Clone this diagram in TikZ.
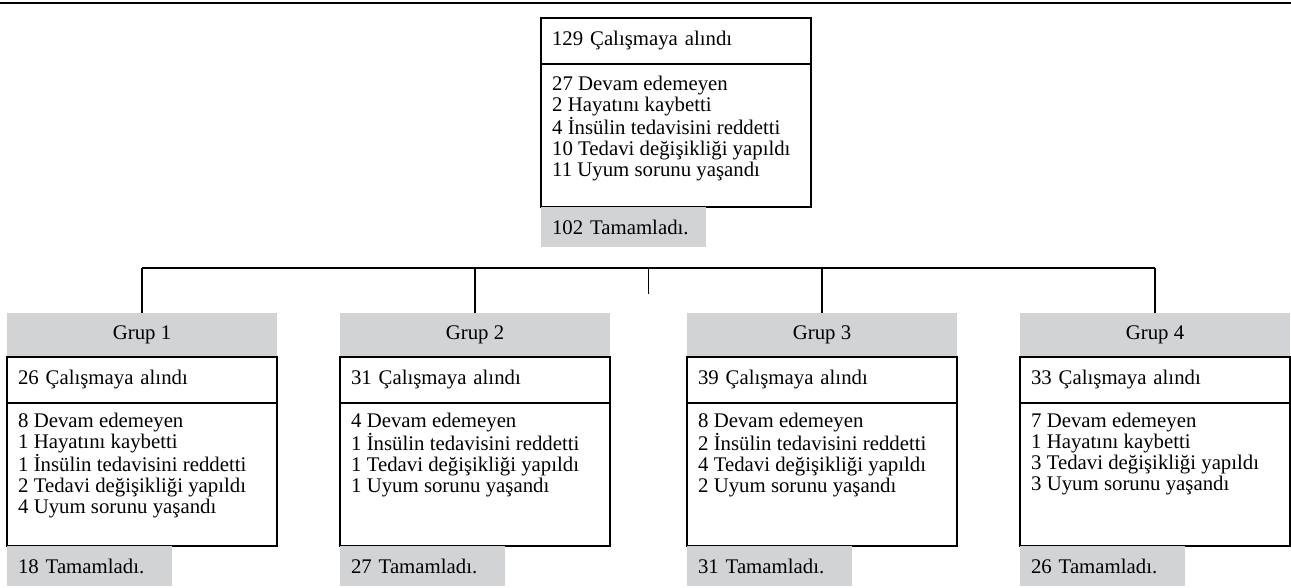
\documentclass[tikz,border=0pt]{standalone}
\usepackage{fontspec}
\setmainfont{Liberation Serif}
\usepackage{tikz}
\usetikzlibrary{calc,positioning}
\definecolor{boxgrey}{RGB}{210,211,213}
\newcommand\boxfont{\fontsize{20.8}{21}\selectfont}

\tikzset{
  hdrbox/.style={fill=boxgrey, minimum width=270pt, minimum height=44pt, inner sep=0pt, outer sep=0pt},
  titlebox/.style={draw, line width=1.8pt, text width=248pt, inner xsep=11pt, inner ysep=0pt,
    minimum height=46pt, align=left, outer sep=0pt},
  detbox/.style={draw, line width=1.8pt, minimum width=270pt, minimum height=143pt, inner sep=0pt, outer sep=0pt},
  donebox/.style={fill=boxgrey, text width=143pt, inner xsep=11pt, inner ysep=0pt,
    minimum height=40pt, align=left, outer sep=0pt},
  itemtext/.style={anchor=north west, align=left, inner sep=0pt},
  link/.style={line width=1.8pt}
}

\begin{document}
\begin{tikzpicture}[x=1pt, y=-1pt, every node/.style={font=\boxfont}]
  \useasboundingbox (0,0) rectangle (1291,587);
  % rule across the top
  \draw[line width=2.6pt] (0,3) -- (1291,3);
  % whole study
  \node[titlebox, anchor=north west] (ttl0) at (541,18) {129 Çalışmaya alındı};
  \node[detbox, anchor=north west] (det0) at (ttl0.south west) {};
  \node[donebox, anchor=north west] (done0) at (det0.south west) {102 Tamamladı.};
  \node[itemtext] (txt0) at ($(det0.north west)+(11,12)$) {27 Devam edemeyen\\2 Hayatını kaybetti\\4 İnsülin tedavisini reddetti\\10 Tedavi değişikliği yapıldı\\11 Uyum sorunu yaşandı};
  % the four groups
  \coordinate (bus) at (0,268);
  \foreach \g/\x/\n/\d/\body in {
      1/7/26/18/{8 Devam edemeyen\\1 Hayatını kaybetti\\1 İnsülin tedavisini reddetti\\2 Tedavi değişikliği yapıldı\\4 Uyum sorunu yaşandı},
      2/340/31/27/{4 Devam edemeyen\\1 İnsülin tedavisini reddetti\\1 Tedavi değişikliği yapıldı\\1 Uyum sorunu yaşandı},
      3/687/39/31/{8 Devam edemeyen\\2 İnsülin tedavisini reddetti\\4 Tedavi değişikliği yapıldı\\2 Uyum sorunu yaşandı},
      4/1020/33/26/{7 Devam edemeyen\\1 Hayatını kaybetti\\3 Tedavi değişikliği yapıldı\\3 Uyum sorunu yaşandı}}{
    \node[hdrbox, anchor=north west] (hdr\g) at (\x,313) {Grup \g};
    \node[titlebox, anchor=north west] (ttl\g) at (hdr\g.south west) {\n\ Çalışmaya alındı};
    \node[detbox, anchor=north west] (det\g) at (ttl\g.south west) {};
    \node[donebox, anchor=north west] (done\g) at (det\g.south west) {\d\ Tamamladı.};
    \node[itemtext] (txt\g) at ($(det\g.north west)+(11,10)$) {\body};
    \draw[link] (hdr\g.north) -- (hdr\g.north |- bus);
  }
  % bus and the short stub in its middle
  \coordinate (busL) at (hdr1.north |- bus);
  \coordinate (busR) at (hdr4.north |- bus);
  \coordinate (busM) at ($(busL)!0.5!(busR)$);
  \coordinate (stubEnd) at ($(busM)+(0,26)$);
  \draw[link] (busL) -- (busR);
  \draw[link] (busM) -- (stubEnd);
\end{tikzpicture}
\end{document}
